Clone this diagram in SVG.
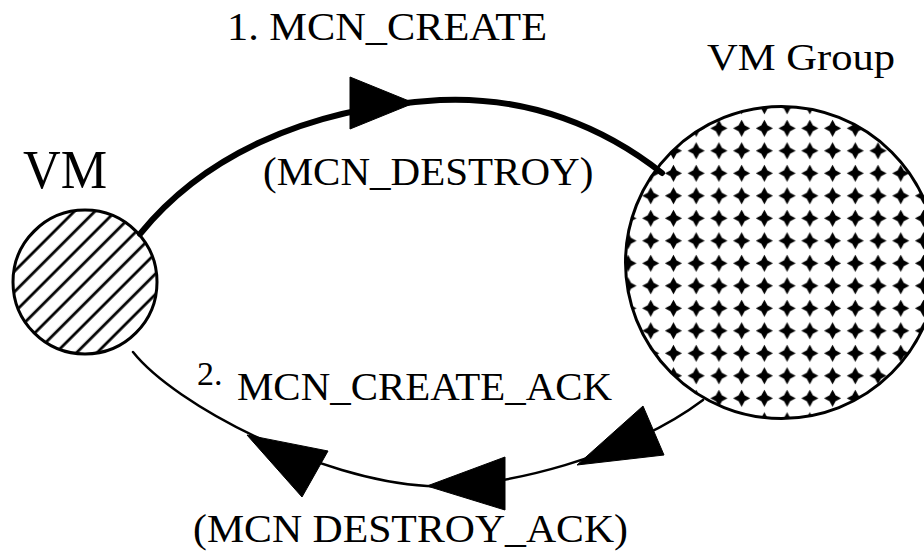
<svg xmlns="http://www.w3.org/2000/svg" width="924" height="553" viewBox="0 0 924 553">
  <style>
    .lbl { font-family: "Liberation Serif", "Times New Roman", serif; fill: #000; }
    .node { stroke: #000; stroke-width: 3; }
    .create { fill: none; stroke: #000; stroke-width: 6; stroke-linecap: round; }
    .ack { fill: none; stroke: #000; stroke-width: 2.5; stroke-linecap: round; }
    .head { fill: #000; stroke: #000; stroke-width: 1; stroke-linejoin: round; }
  </style>
  <defs>
    <!-- diagonal hatching for the single VM -->
    <pattern id="hatch" patternUnits="userSpaceOnUse" width="14.5" height="14.5" patternTransform="rotate(-45 85 282)">
      <line x1="0" y1="7" x2="14.5" y2="7" stroke="#000" stroke-width="2.8"/>
    </pattern>
    <!-- diamond dot screen for the VM group -->
    <pattern id="diamonds" patternUnits="userSpaceOnUse" x="730.3" y="117.05" width="22.73" height="22.5">
      <path d="M11.36,2.8 L14.4,8.2 L19.9,11.25 L14.4,14.3 L11.36,19.7 L8.3,14.3 L2.8,11.25 L8.3,8.2 Z" fill="#000"/>
    </pattern>
  </defs>
  <rect width="924" height="553" fill="#fff"/>

  <g id="connectors">
    <!-- 1. MCN_CREATE (thick, VM to VM Group) -->
    <path class="create" d="M140,234 C200,160 300,108 440,100 C530,96 605,128 662,173"/>
    <polygon class="head" points="350,77 350,129 414,103"/>
    <!-- 2. MCN_CREATE_ACK (thin, VM Group back to VM) -->
    <path class="ack" d="M133,352 C175,405 320,480 427,486 C500,490 630,455 703,400"/>
    <polygon class="head" points="247,435 328,451 302,497"/>
    <polygon class="head" points="427,486 505,457 505,510"/>
    <polygon class="head" points="577,465 643,406 664,455"/>
  </g>

  <g id="vm">
    <circle class="node" cx="85" cy="282" r="72" fill="url(#hatch)"/>
    <text class="lbl" x="23" y="188" font-size="54" textLength="84" lengthAdjust="spacingAndGlyphs">VM</text>
  </g>

  <g id="vm-group">
    <circle class="node" cx="781.5" cy="262.5" r="156" fill="url(#diamonds)" stroke-width="2.5"/>
    <text class="lbl" x="707" y="70" font-size="38" textLength="188" lengthAdjust="spacingAndGlyphs">VM Group</text>
  </g>

  <g id="labels">
    <text class="lbl" x="227" y="40" font-size="40" textLength="320" lengthAdjust="spacingAndGlyphs">1. MCN_CREATE</text>
    <text class="lbl" x="263" y="185" font-size="41">(MCN_DESTROY)</text>
    <text class="lbl" x="197" y="385" font-size="34">2.</text>
    <text class="lbl" x="237" y="400" font-size="40" textLength="375" lengthAdjust="spacingAndGlyphs">MCN_CREATE_ACK</text>
    <text class="lbl" x="193" y="542" font-size="41" textLength="435" lengthAdjust="spacingAndGlyphs">(MCN DESTROY_ACK)</text>
  </g>
</svg>
